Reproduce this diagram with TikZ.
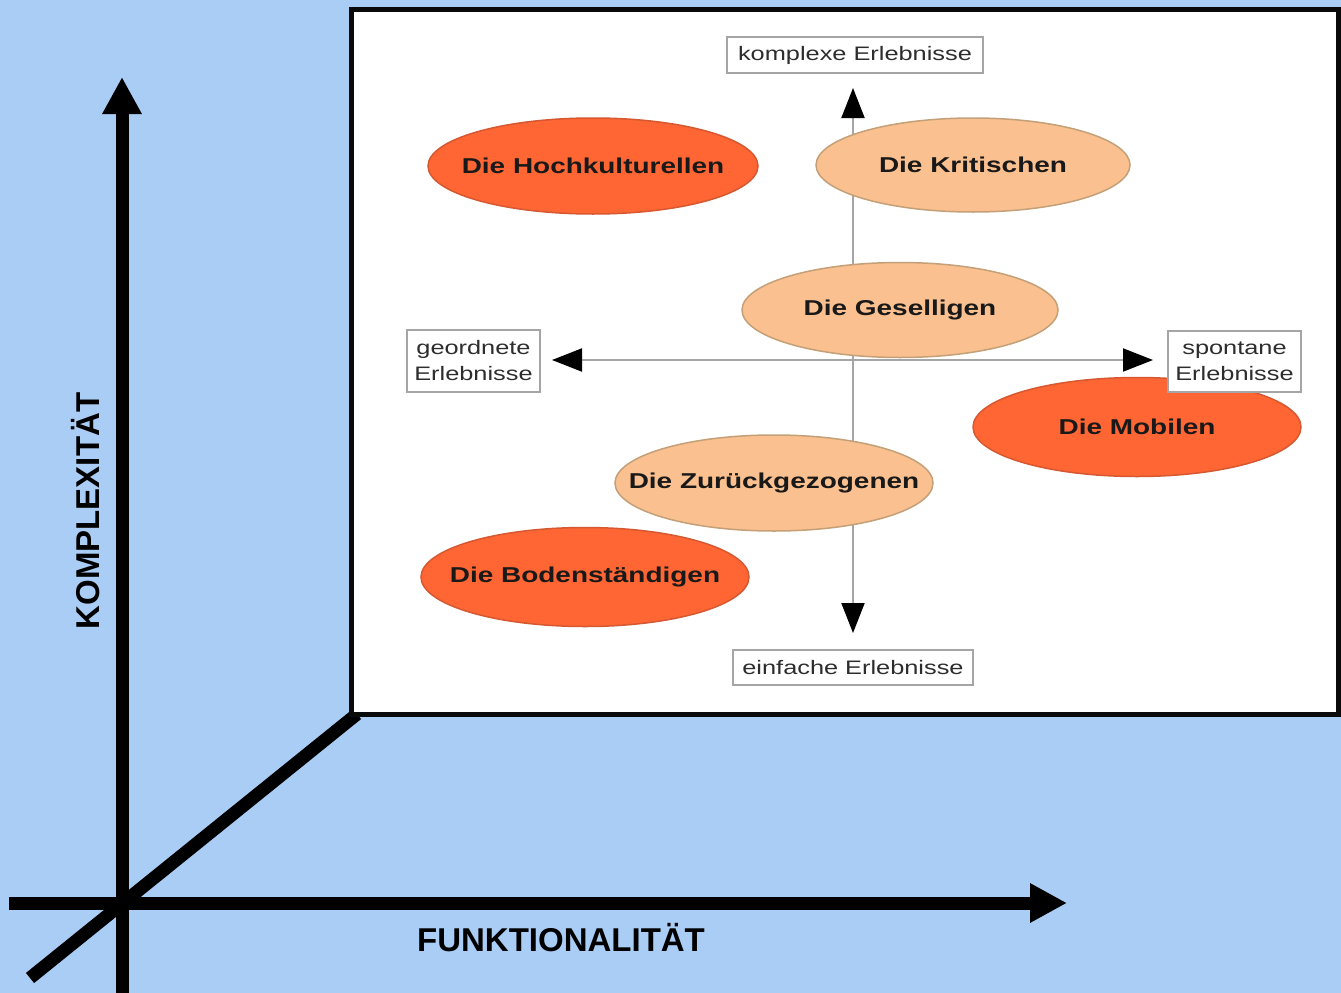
\documentclass[tikz,border=0pt]{standalone}
\usepackage{fontspec}
\setmainfont{Liberation Sans}
\newfontfamily\wideface[FakeStretch=1.3]{Liberation Sans}
\usetikzlibrary{shapes.geometric,arrows.meta}
\definecolor{skyback}{RGB}{170,205,245}
\definecolor{hotorange}{RGB}{255,102,51}
\definecolor{hotedge}{RGB}{214,88,48}
\definecolor{peach}{RGB}{250,192,143}
\definecolor{peachedge}{RGB}{196,160,120}
\definecolor{guide}{RGB}{165,165,165}
\definecolor{labelink}{RGB}{45,45,45}
\definecolor{frameink}{RGB}{10,10,10}
\begin{document}
\begin{tikzpicture}[x=1pt,y=-1pt,
  group/.style={ellipse, draw, line width=1.5pt, inner sep=0pt},
  grouptext/.style={inner sep=0pt, text=black!90,
    font=\wideface\bfseries\fontsize{21.5}{24}\selectfont},
  hot/.style={group, fill=hotorange, draw=hotedge},
  mild/.style={group, fill=peach, draw=peachedge},
  tagbox/.style={draw=guide, line width=1.5pt, fill=white, inner sep=0pt,
    font=\wideface\fontsize{19.5}{26}\selectfont, text=labelink, align=center},
  bigaxis/.style={line width=13pt, -{Triangle[length=37pt,width=37pt]}},
  guideaxis/.style={draw=guide, line width=2pt,
    {Triangle[length=30pt,width=23pt,color=black]}-{Triangle[length=30pt,width=23pt,color=black]}},
  axistitle/.style={font=\bfseries\fontsize{33}{36}\selectfont, inner sep=0pt}
]
% canvas
\useasboundingbox (0,0) rectangle (1341,993);
\fill[skyback] (0,0) rectangle (1341,993);

% three-dimensional axes
\coordinate (vbot) at (122,993);
\coordinate (vtop) at (122,77);
\coordinate (hleft) at (9,903);
\coordinate (hright) at (1067,903);
\coordinate (dlow) at (30,978);
\coordinate (dhigh) at (357,714);
\draw[line width=13pt] (dlow) -- (dhigh);
\draw[bigaxis] (vbot) -- (vtop);
\draw[bigaxis] (hleft) -- (hright);

\node[axistitle, rotate=90] (komp) at (86,511) {KOMPLEXITÄT};
\node[axistitle] (funk) at (561,938) {FUNKTIONALITÄT};

% the panel
\draw[draw=frameink, fill=white, line width=5pt] (351.5,9.5) rectangle (1338.5,714.5);

% experience axes inside the panel
\coordinate (gtop) at (853,88);
\coordinate (gbot) at (853,633);
\coordinate (gleft) at (552,360);
\coordinate (gright) at (1153,360);
\draw[guideaxis] (gbot) -- (gtop);
\draw[guideaxis] (gleft) -- (gright);

% milieu ellipses
\node[hot, minimum width=330pt, minimum height=96pt,
  label={[grouptext]center:Die Hochkulturellen}] (hoch) at (593,166) {};
\node[mild, minimum width=314pt, minimum height=94pt,
  label={[grouptext]center:Die Kritischen}] (krit) at (973,165) {};
\node[mild, minimum width=316pt, minimum height=95pt,
  label={[grouptext]center:Die Geselligen}] (gesell) at (900,310) {};
\node[hot, minimum width=328pt, minimum height=99pt,
  label={[grouptext]center:Die Mobilen}] (mobil) at (1137,427) {};
\node[mild, minimum width=318pt, minimum height=96pt,
  label={[grouptext]center:Die Zurückgezogenen}] (zurueck) at (774,483) {};
\node[hot, minimum width=328pt, minimum height=99pt,
  label={[grouptext]center:Die Bodenständigen}] (boden) at (585,577) {};

% axis end labels
\node[tagbox, minimum width=256pt, minimum height=36pt] (komplex) at (855,55) {komplexe Erlebnisse};
\node[tagbox, minimum width=240pt, minimum height=35pt] (einfach) at (853,667.5) {einfache Erlebnisse};
\node[tagbox, minimum width=133pt, minimum height=62pt] (geordnet) at (473.5,361) {geordnete\\Erlebnisse};
\node[tagbox, minimum width=133pt, minimum height=61pt] (spontan) at (1234.5,361.5) {spontane\\Erlebnisse};
\end{tikzpicture}
\end{document}
